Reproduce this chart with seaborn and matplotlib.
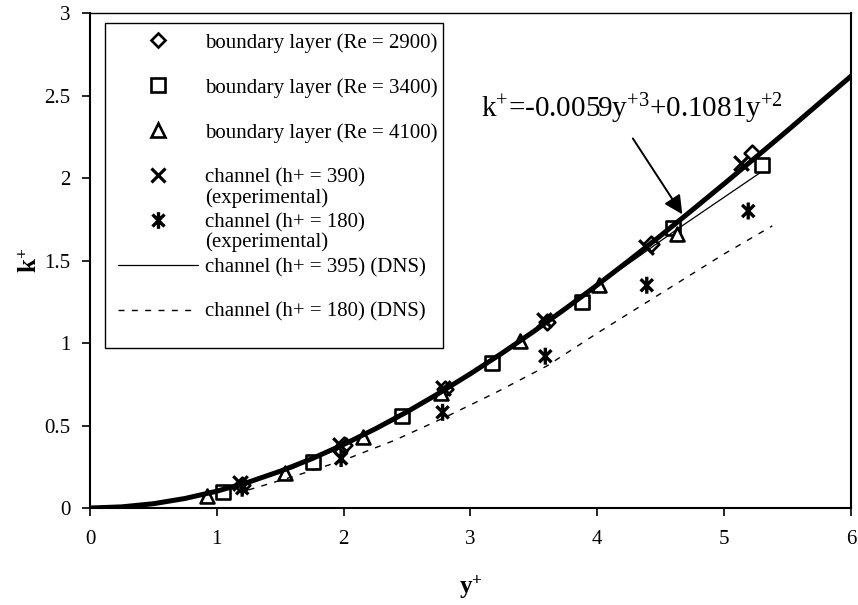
import numpy as np
import pandas as pd
import matplotlib
matplotlib.use("Agg")
import matplotlib.pyplot as plt
import seaborn as sns
from matplotlib.lines import Line2D
from matplotlib.patches import Rectangle
from matplotlib.path import Path

# ---------------- data ----------------
# boundary layer Re = 2900 (diamonds)
bl2900_x = [1.20, 2.00, 2.80, 3.60, 4.42, 5.22]
bl2900_y = [0.14, 0.38, 0.72, 1.13, 1.60, 2.15]
# boundary layer Re = 3400 (squares)
bl3400_x = [1.05, 1.76, 2.46, 3.17, 3.88, 4.60, 5.30]
bl3400_y = [0.10, 0.28, 0.56, 0.88, 1.25, 1.70, 2.08]
# boundary layer Re = 4100 (triangles)
bl4100_x = [0.92, 1.54, 2.15, 2.77, 3.39, 4.01, 4.63]
bl4100_y = [0.07, 0.21, 0.43, 0.70, 1.01, 1.35, 1.66]
# channel h+ = 390 experimental (crosses)
ch390_x = [1.18, 1.97, 2.78, 3.58, 4.38, 5.13]
ch390_y = [0.15, 0.38, 0.73, 1.14, 1.58, 2.09]
# channel h+ = 180 experimental (asterisks)
ch180_x = [1.20, 1.98, 2.78, 3.59, 4.39, 5.19]
ch180_y = [0.12, 0.30, 0.58, 0.92, 1.35, 1.80]
# channel h+ = 395 DNS (thin solid line)
dns395_x = [1.20, 1.60, 2.00, 2.40, 2.80, 3.20, 3.60, 4.00, 4.30, 4.63, 5.28]
dns395_y = [0.14, 0.24, 0.38, 0.53, 0.71, 0.92, 1.13, 1.35, 1.51, 1.69, 2.03]
# channel h+ = 180 DNS (dashed line)
dns180_x = [1.25, 1.60, 2.00, 2.40, 2.80, 3.20, 3.60, 4.00, 4.50, 5.00, 5.38]
dns180_y = [0.11, 0.19, 0.29, 0.41, 0.55, 0.70, 0.86, 1.06, 1.30, 1.54, 1.71]
# fitted curve (thick line)
fit_x = [0.0, 0.25, 0.5, 0.75, 1.0, 1.25, 1.5, 1.75, 2.0, 2.25, 2.5, 2.75, 3.0,
         3.25, 3.5, 3.75, 4.0, 4.25, 4.5, 4.75, 5.0, 5.25, 5.5, 5.75, 6.0]
fit_y = [0.0, 0.007, 0.026, 0.058, 0.102, 0.157, 0.223, 0.299, 0.385, 0.480,
         0.583, 0.695, 0.814, 0.939, 1.071, 1.209, 1.352, 1.500, 1.651, 1.807,
         1.965, 2.126, 2.288, 2.453, 2.617]

x_ticks = [0, 1, 2, 3, 4, 5, 6]
y_ticks = [0, 0.5, 1, 1.5, 2, 2.5, 3]
y_tick_labels = ["0", "0.5", "1", "1.5", "2", "2.5", "3"]

labels = ["boundary layer (Re = 2900)", "boundary layer (Re = 3400)",
          "boundary layer (Re = 4100)", "channel (h+ = 390)",
          "channel (h+ = 180)", "channel (h+ = 395) (DNS)",
          "channel (h+ = 180) (DNS)"]
equation = r"k$^{+}$=-0.0059y$^{+3}$+0.1081y$^{+2}$"

# ---------------- style ----------------
sns.set_theme(style="white")
plt.rcParams["font.family"] = ["Liberation Serif", "DejaVu Serif"]
plt.rcParams["mathtext.fontset"] = "custom"
plt.rcParams["mathtext.rm"] = "Liberation Serif"
plt.rcParams["mathtext.it"] = "Liberation Serif:italic"
plt.rcParams["mathtext.bf"] = "Liberation Serif:bold"

FS = 15

ast_path = Path([(0, -1), (0, 1), (-0.72, -0.72), (0.72, 0.72), (-0.72, 0.72), (0.72, -0.72)],
                [Path.MOVETO, Path.LINETO, Path.MOVETO, Path.LINETO, Path.MOVETO, Path.LINETO])

fig = plt.figure(figsize=(8.58, 6.05), dpi=100)
ax = fig.add_axes([0.1049, 0.1603, 0.8869, 0.8182])

# markers
sns.scatterplot(x=bl2900_x, y=bl2900_y, ax=ax, marker="D", s=64, facecolor="white",
                edgecolor="black", linewidth=1.9, zorder=2, legend=False)
sns.scatterplot(x=bl3400_x, y=bl3400_y, ax=ax, marker="s", s=100, facecolor="white",
                edgecolor="black", linewidth=1.9, zorder=2, legend=False)
sns.scatterplot(x=bl4100_x, y=bl4100_y, ax=ax, marker="^", s=100, facecolor="white",
                edgecolor="black", linewidth=1.9, zorder=2, legend=False)
ax.scatter(ch390_x, ch390_y, marker="x", s=110, color="black", linewidths=2.3, zorder=2)
ax.scatter(ch180_x, ch180_y, marker=ast_path, s=150, facecolor="none",
           edgecolor="black", linewidths=2.4, zorder=2)

# lines
sns.lineplot(x=dns395_x, y=dns395_y, ax=ax, color="black", lw=0.9, sort=False, zorder=3)
sns.lineplot(x=dns180_x, y=dns180_y, ax=ax, color="black", lw=1.0, sort=False,
             dashes=False, zorder=3).lines[-1].set_dashes((4.3, 5.3))
sns.lineplot(x=fit_x, y=fit_y, ax=ax, color="black", lw=3.6, sort=False, zorder=4)

ax.set_xlim(0, 6)
ax.set_ylim(0, 3)
ax.set_xticks(x_ticks)
ax.set_xticklabels([str(v) for v in x_ticks])
ax.set_yticks(y_ticks)
ax.set_yticklabels(y_tick_labels)
ax.tick_params(axis="both", which="major", direction="out", length=6, width=1.2,
               color="black", labelsize=FS, labelcolor="black", bottom=True, left=True)
ax.tick_params(axis="x", pad=10)
ax.tick_params(axis="y", pad=8)
for side in ["left", "bottom", "right", "top"]:
    ax.spines[side].set_visible(True)
    ax.spines[side].set_color("black")
    ax.spines[side].set_linewidth(1.5)
ax.spines["top"].set_linewidth(1.0)
ax.grid(False)

ax.set_xlabel(r"$\mathbf{y}^{\mathbf{+}}$", fontsize=FS + 3, labelpad=17, color="black")
ax.set_ylabel(r"$\mathbf{k}^{\mathbf{+}}$", fontsize=FS + 3, labelpad=2, color="black")

# equation and arrow
ax.text(4.27, 2.42, equation, fontsize=21, ha="center", va="center", color="black")
ax.annotate("", xy=(4.67, 1.78), xytext=(4.28, 2.24),
            arrowprops=dict(arrowstyle="-|>", color="black", lw=1.4,
                            mutation_scale=28, shrinkA=0, shrinkB=0), zorder=5)

# legend
handles = [
    Line2D([], [], ls="none", marker="D", ms=7.6, mfc="white", mec="black", mew=1.9),
    Line2D([], [], ls="none", marker="s", ms=9.8, mfc="white", mec="black", mew=1.9),
    Line2D([], [], ls="none", marker="^", ms=10, mfc="white", mec="black", mew=1.9),
    Line2D([], [], ls="none", marker="x", ms=10.5, color="black", mew=2.3),
    Line2D([], [], ls="none", marker=ast_path, ms=12, mfc="none", mec="black", mew=2.4),
    Line2D([], [], color="black", lw=0.9),
    Line2D([], [], color="black", lw=1.0, dashes=(4.3, 5.3)),
]
leg = ax.legend(handles, labels, loc="upper left",
                bbox_to_anchor=((118 - 90) / 761, (508 - 33) / 495),
                frameon=False, borderpad=0, borderaxespad=0, fontsize=FS,
                handlelength=3.84, handletextpad=0.34, labelspacing=1.21,
                numpoints=1, labelcolor="black")
ax.add_patch(Rectangle(((105 - 90) / 761, (508 - 348) / 495), (443 - 105) / 761,
                       (348 - 23) / 495, transform=ax.transAxes, fill=False,
                       edgecolor="black", lw=1.0, zorder=6))

fig.canvas.draw()
W, H = fig.canvas.get_width_height()
for idx in (3, 4):
    bb = leg.get_texts()[idx].get_window_extent()
    yc = (bb.y0 + bb.y1) / 2 - 20
    fig.text(bb.x0 / W, yc / H, "(experimental)", fontsize=FS, ha="left",
             va="center", color="black")

fig.savefig("out.png", dpi=100)
